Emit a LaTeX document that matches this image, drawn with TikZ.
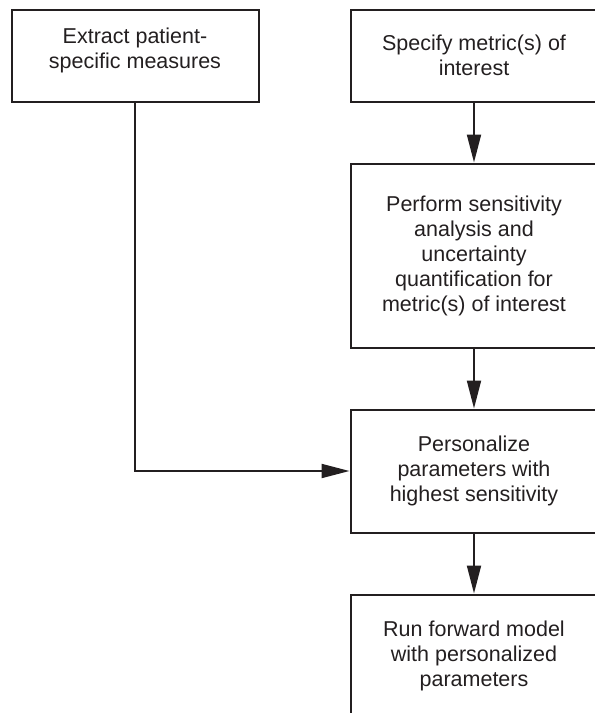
\documentclass[tikz,border=0pt]{standalone}
\usepackage{fontspec}
\setmainfont{Liberation Sans}
\usetikzlibrary{arrows.meta,positioning}
\definecolor{ink}{HTML}{231F20}

\begin{document}
\begin{tikzpicture}[>={Triangle[length=28pt,width=14pt]}, x=1pt, y=1pt]
    \tikzset{stage/.style= {draw=ink, line width=2pt, rectangle, minimum width=247pt, align=center, text=ink, inner sep=0pt, font={\fontsize{21.5}{25}\selectfont}} }
    \tikzset{flow/.style= {draw=ink, line width=2pt, ->} }

    \useasboundingbox (0,0) rectangle (595,-713);
    \clip (0,0) rectangle (595,-713);

    \node[stage, minimum height=92pt] (metric) at (474,-55.5) {Specify metric(s) of\\interest};
    \node[stage, minimum height=184pt] (sens) [below= 60pt of metric] {Perform sensitivity\\analysis and\\uncertainty\\quantification for\\metric(s) of interest};
    \node[stage, minimum height=123pt] (personal) [below= 60pt of sens] {Personalize\\parameters with\\highest sensitivity};
    \node[stage, minimum height=123pt] (forward) [below= 60pt of personal] {Run forward model\\with personalized\\parameters};

    % text sits a little high in this one
    \node[stage, minimum height=92pt, text depth=15pt] (extract) [left= 90pt of metric] {Extract patient-\\specific measures};

    \path[flow] (metric) -- (sens);
    \path[flow] (sens) -- (personal);
    \path[flow] (personal) -- (forward);
    \path[flow] (extract.south) |- (personal.west);
\end{tikzpicture}
\end{document}
